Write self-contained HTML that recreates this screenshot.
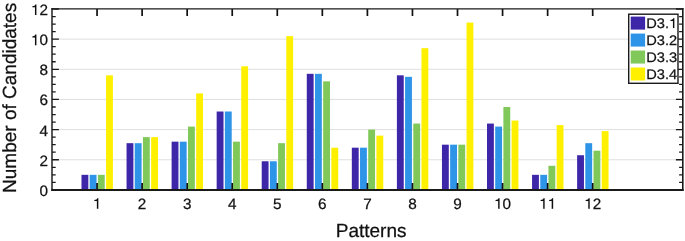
<!DOCTYPE html><html><head><meta charset="utf-8"><style>html,body{margin:0;padding:0;background:#fff;width:685px;height:241px;overflow:hidden}svg{display:block;will-change:transform}text{font-family:"Liberation Sans",sans-serif;text-rendering:geometricPrecision}
text{stroke:#111;stroke-width:0.25px}</style></head><body>
<svg width="685" height="241" viewBox="0 0 685 241">
<rect width="685" height="241" fill="#fff"/>
<line x1="52.00" y1="159.75" x2="682.80" y2="159.75" stroke="#dfdfdf" stroke-width="1.0"/>
<line x1="52.00" y1="129.60" x2="682.80" y2="129.60" stroke="#dfdfdf" stroke-width="1.0"/>
<line x1="52.00" y1="99.45" x2="682.80" y2="99.45" stroke="#dfdfdf" stroke-width="1.0"/>
<line x1="52.00" y1="69.30" x2="682.80" y2="69.30" stroke="#dfdfdf" stroke-width="1.0"/>
<line x1="52.00" y1="39.15" x2="682.80" y2="39.15" stroke="#dfdfdf" stroke-width="1.0"/>
<rect x="81.49" y="174.83" width="6.85" height="15.07" fill="#3e26a8"/>
<rect x="89.68" y="174.83" width="6.85" height="15.07" fill="#2e94e8"/>
<rect x="97.88" y="174.83" width="6.85" height="15.07" fill="#7fc859"/>
<rect x="106.07" y="75.33" width="6.85" height="114.57" fill="#fff000"/>
<rect x="126.55" y="143.17" width="6.85" height="46.73" fill="#3e26a8"/>
<rect x="134.74" y="143.17" width="6.85" height="46.73" fill="#2e94e8"/>
<rect x="142.93" y="137.14" width="6.85" height="52.76" fill="#7fc859"/>
<rect x="151.13" y="137.14" width="6.85" height="52.76" fill="#fff000"/>
<rect x="171.61" y="141.66" width="6.85" height="48.24" fill="#3e26a8"/>
<rect x="179.80" y="141.66" width="6.85" height="48.24" fill="#2e94e8"/>
<rect x="187.99" y="126.59" width="6.85" height="63.31" fill="#7fc859"/>
<rect x="196.18" y="93.42" width="6.85" height="96.48" fill="#fff000"/>
<rect x="216.66" y="111.51" width="6.85" height="78.39" fill="#3e26a8"/>
<rect x="224.86" y="111.51" width="6.85" height="78.39" fill="#2e94e8"/>
<rect x="233.05" y="141.66" width="6.85" height="48.24" fill="#7fc859"/>
<rect x="241.24" y="66.29" width="6.85" height="123.61" fill="#fff000"/>
<rect x="261.72" y="161.26" width="6.85" height="28.64" fill="#3e26a8"/>
<rect x="269.91" y="161.26" width="6.85" height="28.64" fill="#2e94e8"/>
<rect x="278.10" y="143.17" width="6.85" height="46.73" fill="#7fc859"/>
<rect x="286.30" y="36.14" width="6.85" height="153.76" fill="#fff000"/>
<rect x="306.78" y="73.82" width="6.85" height="116.08" fill="#3e26a8"/>
<rect x="314.97" y="73.82" width="6.85" height="116.08" fill="#2e94e8"/>
<rect x="323.16" y="81.36" width="6.85" height="108.54" fill="#7fc859"/>
<rect x="331.35" y="147.69" width="6.85" height="42.21" fill="#fff000"/>
<rect x="351.83" y="147.69" width="6.85" height="42.21" fill="#3e26a8"/>
<rect x="360.03" y="147.69" width="6.85" height="42.21" fill="#2e94e8"/>
<rect x="368.22" y="129.60" width="6.85" height="60.30" fill="#7fc859"/>
<rect x="376.41" y="135.63" width="6.85" height="54.27" fill="#fff000"/>
<rect x="396.89" y="75.33" width="6.85" height="114.57" fill="#3e26a8"/>
<rect x="405.08" y="76.84" width="6.85" height="113.06" fill="#2e94e8"/>
<rect x="413.28" y="123.57" width="6.85" height="66.33" fill="#7fc859"/>
<rect x="421.47" y="48.19" width="6.85" height="141.71" fill="#fff000"/>
<rect x="441.95" y="144.68" width="6.85" height="45.22" fill="#3e26a8"/>
<rect x="450.14" y="144.68" width="6.85" height="45.22" fill="#2e94e8"/>
<rect x="458.33" y="144.68" width="6.85" height="45.22" fill="#7fc859"/>
<rect x="466.53" y="22.57" width="6.85" height="167.33" fill="#fff000"/>
<rect x="487.01" y="123.57" width="6.85" height="66.33" fill="#3e26a8"/>
<rect x="495.20" y="126.59" width="6.85" height="63.31" fill="#2e94e8"/>
<rect x="503.39" y="106.99" width="6.85" height="82.91" fill="#7fc859"/>
<rect x="511.58" y="120.56" width="6.85" height="69.34" fill="#fff000"/>
<rect x="532.06" y="174.83" width="6.85" height="15.07" fill="#3e26a8"/>
<rect x="540.26" y="174.83" width="6.85" height="15.07" fill="#2e94e8"/>
<rect x="548.45" y="165.78" width="6.85" height="24.12" fill="#7fc859"/>
<rect x="556.64" y="125.08" width="6.85" height="64.82" fill="#fff000"/>
<rect x="577.12" y="155.23" width="6.85" height="34.67" fill="#3e26a8"/>
<rect x="585.31" y="143.17" width="6.85" height="46.73" fill="#2e94e8"/>
<rect x="593.50" y="150.70" width="6.85" height="39.20" fill="#7fc859"/>
<rect x="601.70" y="131.11" width="6.85" height="58.79" fill="#fff000"/>
<path d="M97.06 189.90V183.00M97.06 9.00V15.90M142.11 189.90V183.00M142.11 9.00V15.90M187.17 189.90V183.00M187.17 9.00V15.90M232.23 189.90V183.00M232.23 9.00V15.90M277.29 189.90V183.00M277.29 9.00V15.90M322.34 189.90V183.00M322.34 9.00V15.90M367.40 189.90V183.00M367.40 9.00V15.90M412.46 189.90V183.00M412.46 9.00V15.90M457.51 189.90V183.00M457.51 9.00V15.90M502.57 189.90V183.00M502.57 9.00V15.90M547.63 189.90V183.00M547.63 9.00V15.90M592.69 189.90V183.00M592.69 9.00V15.90" stroke="#111" stroke-width="1.7" fill="none"/>
<path d="M52.00 189.90H58.90M682.80 189.90H675.90M52.00 182.36H55.70M682.80 182.36H679.10M52.00 174.83H55.70M682.80 174.83H679.10M52.00 167.29H55.70M682.80 167.29H679.10M52.00 159.75H58.90M682.80 159.75H675.90M52.00 152.21H55.70M682.80 152.21H679.10M52.00 144.68H55.70M682.80 144.68H679.10M52.00 137.14H55.70M682.80 137.14H679.10M52.00 129.60H58.90M682.80 129.60H675.90M52.00 122.06H55.70M682.80 122.06H679.10M52.00 114.53H55.70M682.80 114.53H679.10M52.00 106.99H55.70M682.80 106.99H679.10M52.00 99.45H58.90M682.80 99.45H675.90M52.00 91.91H55.70M682.80 91.91H679.10M52.00 84.38H55.70M682.80 84.38H679.10M52.00 76.84H55.70M682.80 76.84H679.10M52.00 69.30H58.90M682.80 69.30H675.90M52.00 61.76H55.70M682.80 61.76H679.10M52.00 54.22H55.70M682.80 54.22H679.10M52.00 46.69H55.70M682.80 46.69H679.10M52.00 39.15H58.90M682.80 39.15H675.90M52.00 31.61H55.70M682.80 31.61H679.10M52.00 24.07H55.70M682.80 24.07H679.10M52.00 16.54H55.70M682.80 16.54H679.10M52.00 9.00H58.90M682.80 9.00H675.90" stroke="#1a1a1a" stroke-width="1.3" fill="none"/>
<path d="M51.27 8.90H683.60" stroke="#1a1a1a" stroke-width="1.4" fill="none"/>
<path d="M51.27 189.95H683.60" stroke="#1a1a1a" stroke-width="1.9" fill="none"/>
<path d="M52.00 8.20V190.90" stroke="#1a1a1a" stroke-width="1.45" fill="none"/>
<path d="M682.80 8.20V190.90" stroke="#1a1a1a" stroke-width="1.6" fill="none"/>
<g transform="translate(47.900 195.900) scale(1.02 1)" fill="#111"><text x="-8.340" y="0" font-size="15.0">0</text></g>
<g transform="translate(47.900 165.750) scale(1.02 1)" fill="#111"><text x="-8.340" y="0" font-size="15.0">2</text></g>
<g transform="translate(47.900 135.600) scale(1.02 1)" fill="#111"><text x="-8.340" y="0" font-size="15.0">4</text></g>
<g transform="translate(47.900 105.450) scale(1.02 1)" fill="#111"><text x="-8.340" y="0" font-size="15.0">6</text></g>
<g transform="translate(47.900 75.300) scale(1.02 1)" fill="#111"><text x="-8.340" y="0" font-size="15.0">8</text></g>
<g transform="translate(47.900 45.150) scale(1.02 1)" fill="#111"><path transform="translate(-16.680 0) scale(15.0)" d="M.359 0V-.703H.288C.272-.640.238-.590.101-.583V-.517H.268V0Z" stroke="#111" stroke-width="0.0053"/><text x="-8.340" y="0" font-size="15.0">0</text></g>
<g transform="translate(47.900 15.000) scale(1.02 1)" fill="#111"><path transform="translate(-16.680 0) scale(15.0)" d="M.359 0V-.703H.288C.272-.640.238-.590.101-.583V-.517H.268V0Z" stroke="#111" stroke-width="0.0053"/><text x="-8.340" y="0" font-size="15.0">2</text></g>
<g transform="translate(97.057 208.850) scale(1.02 1)" fill="#111"><path transform="translate(-4.170 0) scale(15.0)" d="M.359 0V-.703H.288C.272-.640.238-.590.101-.583V-.517H.268V0Z" stroke="#111" stroke-width="0.0053"/></g>
<g transform="translate(142.114 208.850) scale(1.02 1)" fill="#111"><text x="-4.170" y="0" font-size="15.0">2</text></g>
<g transform="translate(187.171 208.850) scale(1.02 1)" fill="#111"><text x="-4.170" y="0" font-size="15.0">3</text></g>
<g transform="translate(232.229 208.850) scale(1.02 1)" fill="#111"><text x="-4.170" y="0" font-size="15.0">4</text></g>
<g transform="translate(277.286 208.850) scale(1.02 1)" fill="#111"><text x="-4.170" y="0" font-size="15.0">5</text></g>
<g transform="translate(322.343 208.850) scale(1.02 1)" fill="#111"><text x="-4.170" y="0" font-size="15.0">6</text></g>
<g transform="translate(367.400 208.850) scale(1.02 1)" fill="#111"><text x="-4.170" y="0" font-size="15.0">7</text></g>
<g transform="translate(412.457 208.850) scale(1.02 1)" fill="#111"><text x="-4.170" y="0" font-size="15.0">8</text></g>
<g transform="translate(457.514 208.850) scale(1.02 1)" fill="#111"><text x="-4.170" y="0" font-size="15.0">9</text></g>
<g transform="translate(502.571 208.850) scale(1.02 1)" fill="#111"><path transform="translate(-8.340 0) scale(15.0)" d="M.359 0V-.703H.288C.272-.640.238-.590.101-.583V-.517H.268V0Z" stroke="#111" stroke-width="0.0053"/><text x="0.000" y="0" font-size="15.0">0</text></g>
<g transform="translate(547.629 208.850) scale(1.02 1)" fill="#111"><path transform="translate(-8.340 0) scale(15.0)" d="M.359 0V-.703H.288C.272-.640.238-.590.101-.583V-.517H.268V0Z" stroke="#111" stroke-width="0.0053"/><path transform="translate(0.000 0) scale(15.0)" d="M.359 0V-.703H.288C.272-.640.238-.590.101-.583V-.517H.268V0Z" stroke="#111" stroke-width="0.0053"/></g>
<g transform="translate(592.686 208.850) scale(1.02 1)" fill="#111"><path transform="translate(-8.340 0) scale(15.0)" d="M.359 0V-.703H.288C.272-.640.238-.590.101-.583V-.517H.268V0Z" stroke="#111" stroke-width="0.0053"/><text x="0.000" y="0" font-size="15.0">2</text></g>
<g transform="translate(371.10 236.50) scale(1.0 1.0)" fill="#111"><text font-size="19.0" text-anchor="middle">Patterns</text></g>
<g transform="translate(16.00 97.90) rotate(-90) scale(1.0 1.0)" fill="#111"><text font-size="19.0" text-anchor="middle">Number of Candidates</text></g>
<rect x="628.70" y="14.20" width="49.30" height="69.10" fill="#fff" stroke="#1a1a1a" stroke-width="1.4"/>
<rect x="630.70" y="16.60" width="14.40" height="13.00" fill="#3e26a8"/>
<g transform="translate(646.300 28.050) scale(1.06 1)" fill="#111"><text x="0.000" y="0" font-size="13.8">D3.</text><path transform="translate(21.473 0) scale(13.8)" d="M.359 0V-.703H.288C.272-.640.238-.590.101-.583V-.517H.268V0Z" stroke="#111" stroke-width="0.0058"/></g>
<rect x="630.70" y="33.57" width="14.40" height="13.00" fill="#2e94e8"/>
<g transform="translate(646.300 45.020) scale(1.06 1)" fill="#111"><text x="0.000" y="0" font-size="13.8">D3.2</text></g>
<rect x="630.70" y="50.54" width="14.40" height="13.00" fill="#7fc859"/>
<g transform="translate(646.300 61.990) scale(1.06 1)" fill="#111"><text x="0.000" y="0" font-size="13.8">D3.3</text></g>
<rect x="630.70" y="67.51" width="14.40" height="13.00" fill="#fff000"/>
<g transform="translate(646.300 78.960) scale(1.06 1)" fill="#111"><text x="0.000" y="0" font-size="13.8">D3.4</text></g>
</svg></body></html>
